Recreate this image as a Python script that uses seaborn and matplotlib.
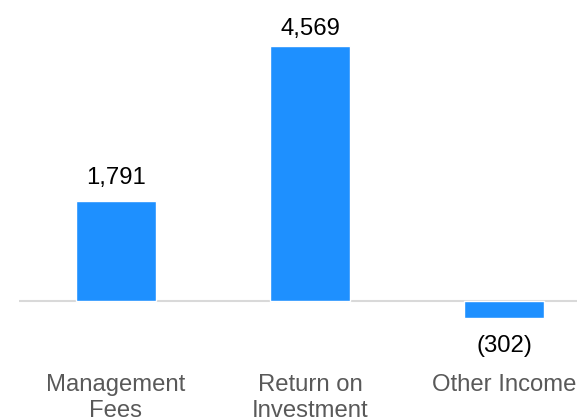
import matplotlib
matplotlib.use("Agg")
import matplotlib.pyplot as plt
import seaborn as sns
import pandas as pd

# -----------------------------
# data
# -----------------------------
categories = ["Management\nFees", "Return on\nInvestment", "Other Income"]
values = [1791, 4569, -302]
value_labels = ["1,791", "4,569", "(302)"]

df = pd.DataFrame({"Category": categories, "Value": values})

sns.set_style("white")
plt.rcParams["font.family"] = ["Liberation Sans", "DejaVu Sans"]

fig = plt.figure(figsize=(5.77, 4.2), dpi=100)
# plot area runs past the right edge, like the reference
ax = fig.add_axes([19 / 577, 45 / 420, 582 / 577, 375 / 420])

sns.barplot(data=df, x="Category", y="Value", color="#1E90FF",
            width=0.41, saturation=1, ax=ax)

ax.axhline(0, color="#d9d9d9", lw=1.5, zorder=0)

scale = 255 / 4569
ax.set_ylim(-(375 - 301) / scale, 301 / scale)
ax.set_xlim(-0.5, 2.5)

FS = 17.2
px = 72 / 100  # points per pixel
for bar, lab, v in zip(ax.patches, value_labels, values):
    x = bar.get_x() + bar.get_width() / 2
    if v >= 0:
        # keep the label inside the figure when the bar is tall
        top_px = (ax.get_ylim()[1] - v) * scale
        gap = min(12, top_px - 40)
        ax.annotate(lab, (x, v), xytext=(0, gap * px), textcoords="offset points",
                    ha="center", va="bottom", fontsize=FS, color="black")
    else:
        ax.annotate(lab, (x, v), xytext=(0, -12), textcoords="offset points",
                    ha="center", va="top", fontsize=FS, color="black")

ax.set_xlabel("")
ax.set_ylabel("")
ax.set_yticks([])
ax.tick_params(axis="x", length=0, pad=-1, labelsize=FS, labelcolor="#595959")
for t in ax.get_xticklabels():
    t.set_linespacing(1.25)
sns.despine(ax=ax, left=True, bottom=True)

fig.savefig("out.png", dpi=100)
